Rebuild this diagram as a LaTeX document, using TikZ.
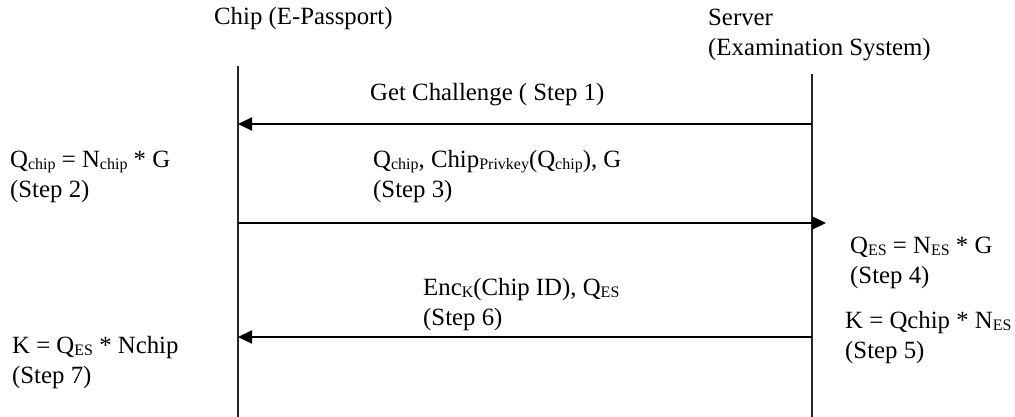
\documentclass[tikz,border=0pt]{standalone}
\usepackage{fontspec}
\setmainfont{Liberation Serif}
\usetikzlibrary{arrows.meta}
% small lowered index, as in Q_chip
\newcommand\lowidx[1]{\raisebox{-2.5pt}{\fontsize{16}{16}\selectfont #1}}
\newcommand\txtline[1]{\strut #1}
\begin{document}
\begin{tikzpicture}[x=1pt,y=-1pt,
  font=\fontsize{24.8}{30}\selectfont,
  lbl/.style={anchor=north west, inner sep=0pt, align=left},
  life/.style={line width=2pt, draw=black!85},
  msg/.style={line width=2.2pt, -{Triangle[length=14pt,width=13pt]}}]
\useasboundingbox (0,0) rectangle (1015,417);

% participants
\node[lbl] (chip) at (214,3) {\txtline{Chip (E-Passport)}};
\node[lbl] (server) at (708,4) {\txtline{Server}\\\txtline{(Examination System)}};

% lifelines
\coordinate (chipTop) at (238,66);
\coordinate (chipBot) at (238,417);
\coordinate (srvTop) at (812,74);
\coordinate (srvBot) at (812,417);
\draw[life] (chipTop) -- (chipBot);
\draw[life] (srvTop) -- (srvBot);

% message anchors on the lifelines
\coordinate (c1) at (238,124);
\coordinate (s1) at (812,124);
\coordinate (c2) at (238,223);
\coordinate (s2) at (812,223);
\coordinate (c3) at (238,337);
\coordinate (s3) at (812,337);

\draw[msg] (s1) -- (c1);
\draw[msg, shorten >=-14pt] (c2) -- (s2);
\draw[msg] (s3) -- (c3);

% message labels
\node[lbl] (m1) at (370,79) {\txtline{Get Challenge ( Step 1)}};
\node[lbl] (m2) at (373,146) {\txtline{Q\lowidx{chip}, Chip\lowidx{Privkey}(Q\lowidx{chip}), G}\\\txtline{(Step 3)}};
\node[lbl] (m3) at (423,274) {\txtline{Enc\lowidx{K}(Chip ID), Q\lowidx{ES}}\\\txtline{(Step 6)}};

% local computations
\node[lbl] (st2) at (10,146) {\txtline{Q\lowidx{chip} = N\lowidx{chip} * G}\\\txtline{(Step 2)}};
\node[lbl] (st4) at (850,232) {\txtline{Q\lowidx{ES} = N\lowidx{ES} * G}\\\txtline{(Step 4)}};
\node[lbl] (st5) at (845,307) {\txtline{K = Qchip * N\lowidx{ES}}\\\txtline{(Step 5)}};
\node[lbl] (st7) at (12,332) {\txtline{K = Q\lowidx{ES} * Nchip}\\\txtline{(Step 7)}};
\end{tikzpicture}
\end{document}
